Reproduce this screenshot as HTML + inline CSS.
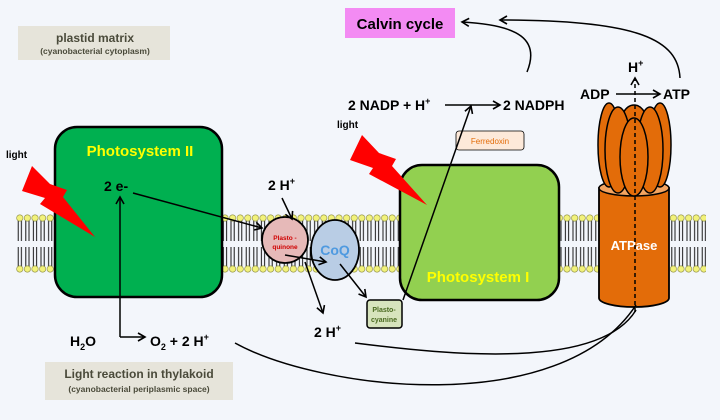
<!DOCTYPE html>
<html><head><meta charset="utf-8"><style>
html,body{margin:0;padding:0;background:#f3f6fb;}
svg{display:block;font-family:"Liberation Sans",sans-serif;}
</style></head><body>
<svg width="720" height="420" viewBox="0 0 720 420">
<defs>
<marker id="ah" markerWidth="10" markerHeight="10" refX="8" refY="5" orient="auto" markerUnits="userSpaceOnUse"><path d="M1,1 L8,5 L1,9" fill="none" stroke="#000" stroke-width="1.6"/></marker>
<pattern id="lip" x="16" y="0" width="7.6" height="420" patternUnits="userSpaceOnUse">
<line x1="2.2" y1="220" x2="2.2" y2="241" stroke="#000" stroke-width="0.9"/><line x1="5.4" y1="220" x2="5.4" y2="241" stroke="#000" stroke-width="0.9"/>
<line x1="2.2" y1="247" x2="2.2" y2="267" stroke="#000" stroke-width="0.9"/><line x1="5.4" y1="247" x2="5.4" y2="267" stroke="#000" stroke-width="0.9"/>
<circle cx="3.8" cy="218" r="3.2" fill="#f2f27a" stroke="#8a8a40" stroke-width="0.6"/>
<circle cx="3.8" cy="269" r="3.2" fill="#f2f27a" stroke="#8a8a40" stroke-width="0.6"/>
</pattern>
</defs>
<rect x="16" y="212" width="690" height="62" fill="url(#lip)"/>

<g>
<rect x="18" y="26" width="152" height="34" fill="#e6e4da"/>
<text x="95" y="42" font-size="12" font-weight="bold" text-anchor="middle" fill="#4a4a3a">plastid matrix</text>
<text x="95" y="54" font-size="8.5" font-weight="bold" text-anchor="middle" fill="#4a4a3a">(cyanobacterial cytoplasm)</text>
</g>
<g>
<rect x="45" y="362" width="188" height="38" fill="#e6e4da"/>
<text x="139" y="378" font-size="12" font-weight="bold" text-anchor="middle" fill="#4a4a3a">Light reaction in thylakoid</text>
<text x="139" y="392" font-size="8.5" font-weight="bold" text-anchor="middle" fill="#4a4a3a">(cyanobacterial periplasmic space)</text>
</g>
<g>
<rect x="345" y="8" width="110" height="30" fill="#f38bf3"/>
<text x="400" y="29" font-size="15" font-weight="bold" text-anchor="middle">Calvin cycle</text>
</g>

<text x="6" y="158" font-size="10" font-weight="bold">light</text>
<text x="337" y="128" font-size="10" font-weight="bold">light</text>

<rect x="55" y="127" width="167" height="170" rx="22" fill="#00b050" stroke="#000" stroke-width="2.5"/>
<text x="140" y="156" font-size="15" font-weight="bold" fill="#ffff00" text-anchor="middle">Photosystem II</text>
<polygon points="32,166 22,191 45,198 40,204 95,237 63,197 67,190 50,184" fill="#ff0000"/>

<rect x="400" y="165" width="159" height="135" rx="22" fill="#92d050" stroke="#000" stroke-width="2.5"/>
<text x="478" y="282" font-size="15" font-weight="bold" fill="#ffff00" text-anchor="middle">Photosystem I</text>
<polygon points="362,135 350,160 373,168 369,174 427,205 392,166 396,159 379,153" fill="#ff0000"/>

<circle cx="285" cy="240" r="23" fill="#e6b9b8" stroke="#000" stroke-width="1.8"/>
<text x="285" y="240" font-size="6.5" font-weight="bold" fill="#d00000" text-anchor="middle">Plasto -</text>
<text x="285" y="249" font-size="6.5" font-weight="bold" fill="#d00000" text-anchor="middle">quinone</text>
<ellipse cx="335" cy="250" rx="24" ry="30" fill="#b9cde5" stroke="#000" stroke-width="1.8"/>
<text x="335" y="255" font-size="14" font-weight="bold" fill="#4f9ae0" text-anchor="middle">CoQ</text>
<rect x="367" y="300" width="35" height="28" rx="3" fill="#d7e4bd" stroke="#000" stroke-width="1.5"/>
<text x="384" y="312" font-size="7" font-weight="bold" fill="#4a6a20" text-anchor="middle">Plasto-</text>
<text x="384" y="322" font-size="7" font-weight="bold" fill="#4a6a20" text-anchor="middle">cyanine</text>
<rect x="456" y="131" width="68" height="19" rx="3" fill="#fde9d9" stroke="#000" stroke-width="0.8"/>
<text x="490" y="144" font-size="8" fill="#e36c09" text-anchor="middle">Ferredoxin</text>

<g>
<path d="M599,188 L599,298 A35,9 0 0 0 669,298 L669,188 Z" fill="#e36c09" stroke="#000" stroke-width="1.8"/>
<ellipse cx="634" cy="188" rx="35" ry="8" fill="#f4a460" stroke="#000" stroke-width="1.5"/>
<ellipse cx="634" cy="130" rx="15" ry="25" fill="#e36c09" stroke="#000" stroke-width="1.5"/>
<ellipse cx="609" cy="145" rx="11" ry="42" fill="#e36c09" stroke="#000" stroke-width="1.5"/>
<ellipse cx="660" cy="145" rx="11" ry="42" fill="#e36c09" stroke="#000" stroke-width="1.5"/>
<ellipse cx="618" cy="150" rx="13" ry="43" fill="#e36c09" stroke="#000" stroke-width="1.5"/>
<ellipse cx="650" cy="150" rx="13" ry="43" fill="#e36c09" stroke="#000" stroke-width="1.5"/>
<ellipse cx="634" cy="157" rx="14" ry="39" fill="#e36c09" stroke="#000" stroke-width="1.5"/>
<text x="634" y="250" font-size="13" font-weight="bold" fill="#fff" text-anchor="middle">ATPase</text>
<line x1="635" y1="312" x2="635" y2="78" stroke="#000" stroke-width="1.5" stroke-dasharray="4,3" marker-end="url(#ah)"/>
</g>

<g font-weight="bold" font-size="14">
<text x="104" y="191">2 e-</text>
<text x="268" y="190">2 H<tspan font-size="9" dy="-6">+</tspan></text>
<text x="314" y="337">2 H<tspan font-size="9" dy="-6">+</tspan></text>
<text x="70" y="346">H<tspan font-size="9" dy="4">2</tspan><tspan dy="-4">O</tspan></text>
<text x="150" y="346">O<tspan font-size="9" dy="4">2</tspan><tspan dy="-4"> + 2 H</tspan><tspan font-size="9" dy="-6">+</tspan></text>
<text x="348" y="110">2 NADP + H<tspan font-size="9" dy="-6">+</tspan></text>
<text x="503" y="110">2 NADPH</text>
<text x="580" y="99">ADP</text>
<text x="663" y="99">ATP</text>
<text x="628" y="72">H<tspan font-size="9" dy="-6">+</tspan></text>
</g>

<g fill="none" stroke="#000" stroke-width="1.5">
<line x1="120" y1="337" x2="120" y2="197" marker-end="url(#ah)"/>
<line x1="120" y1="337" x2="145" y2="337" marker-end="url(#ah)"/>
<line x1="133" y1="193" x2="262" y2="228" marker-end="url(#ah)"/>
<line x1="282" y1="198" x2="292" y2="219" marker-end="url(#ah)"/>
<line x1="285" y1="255" x2="326" y2="262" marker-end="url(#ah)"/>
<line x1="305" y1="262" x2="323" y2="313" marker-end="url(#ah)"/>
<line x1="340" y1="264" x2="366" y2="297" marker-end="url(#ah)"/>
<line x1="403" y1="300" x2="471" y2="106" marker-end="url(#ah)"/>
<line x1="445" y1="105" x2="500" y2="105" marker-end="url(#ah)"/>
<line x1="616" y1="94" x2="660" y2="94" marker-end="url(#ah)"/>
<path d="M527,72 C540,40 520,25 462,22" marker-end="url(#ah)"/>
<path d="M680,78 C678,40 640,20 500,20" marker-end="url(#ah)"/>
<path d="M235,343 C320,390 560,420 636,305"/>
<path d="M355,343 C450,355 600,370 636,310"/>
</g>
</svg>
</body></html>
